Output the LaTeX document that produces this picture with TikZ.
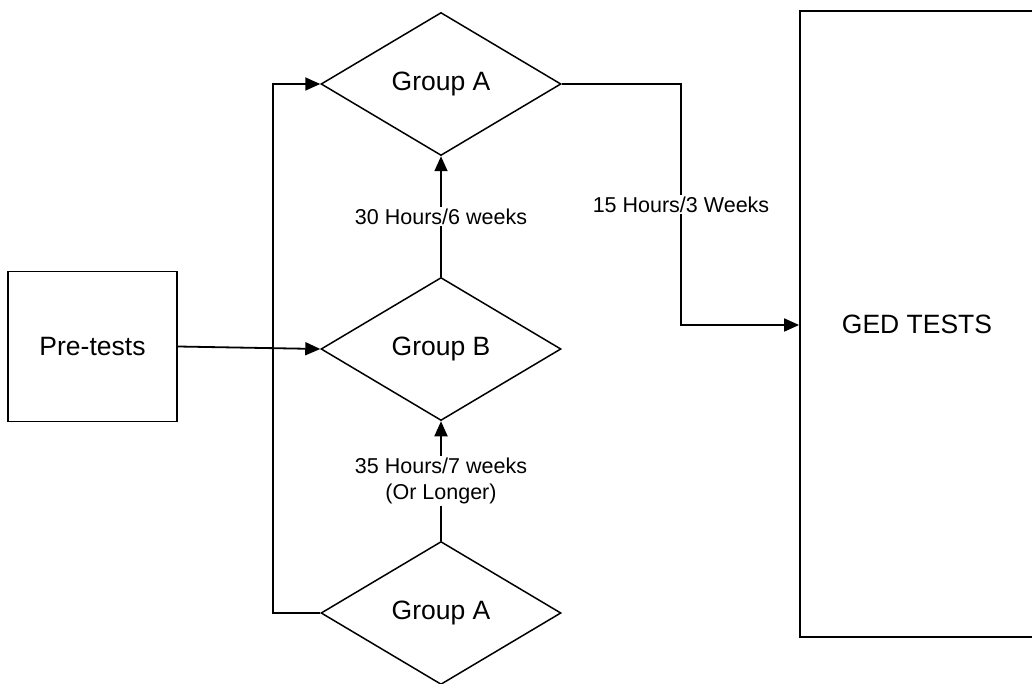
\documentclass[tikz,border=0pt]{standalone}
\usepackage{fontspec}
\setmainfont{Liberation Sans}
\usetikzlibrary{shapes.geometric,arrows.meta,positioning}
\begin{document}
\begin{tikzpicture}[x=1pt,y=-1pt,
  boxnode/.style={draw,line width=1.8pt,rectangle,inner sep=0pt,font=\fontsize{26.5}{31}\selectfont},
  groupnode/.style={draw,line width=1.5pt,diamond,inner sep=0pt,minimum width=240pt,minimum height=143pt,font=\fontsize{26.5}{31}\selectfont},
  conn/.style={line width=1.8pt,-{Triangle[length=15pt,width=13pt]}},
  lbl/.style={fill=white,inner sep=2pt,align=center,font=\fontsize{21.5}{26}\selectfont}]
\useasboundingbox (0,0) rectangle (1032,684);
\node[boxnode,minimum width=169pt,minimum height=150pt] (pre) at (92.5,346.5) {Pre-tests};
\node[groupnode] (gA1) at (441,84) {Group A};
\node[groupnode] (gB) at (441,349) {Group B};
\node[groupnode] (gA2) at (441,613) {Group A};
\node[boxnode,minimum width=234pt,minimum height=626pt] (ged) at (917,324) {GED TESTS};
\coordinate (j) at (681,325);
\coordinate (k) at (272.7,613);
\draw[conn] (pre.east) -- (gB.west);
\draw[conn] (gB.north) -- node[lbl] {30 Hours/6 weeks} (gA1.south);
\draw[conn] (gA2.north) -- node[lbl] {35 Hours/7 weeks\\(Or Longer)} (gB.south);
\draw[conn] (gA2.west) -- (k) |- (gA1.west);
\draw[conn] (gA1.east) -- (gA1.east -| j) -- node[lbl] {15 Hours/3 Weeks} (j) -- (ged.west |- j);
\end{tikzpicture}
\end{document}
